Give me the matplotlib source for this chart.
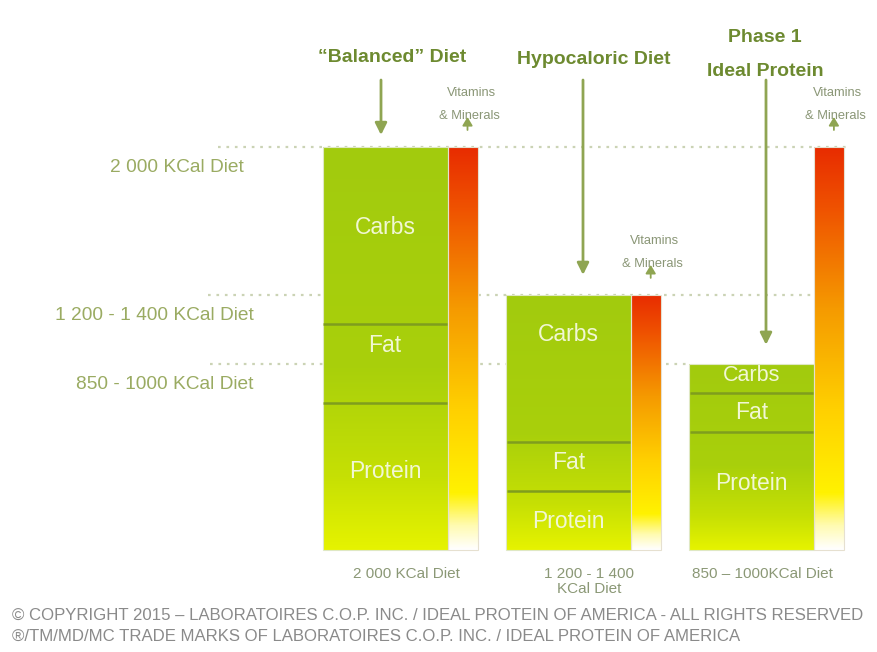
import numpy as np
import matplotlib
matplotlib.use("Agg")
import matplotlib.pyplot as plt
from matplotlib.colors import LinearSegmentedColormap

# ---------------- data ----------------
diets = ["\u201cBalanced\u201d Diet", "Hypocaloric Diet", "Phase 1\nIdeal Protein"]
segments = ["Protein", "Fat", "Carbs"]
protein = [730, 293, 586]
fat = [392, 243, 194]
carbs = [878, 730, 144]
vitamins = [2000, 1266, 2000]
level_labels = ["2 000 KCal Diet", "1 200 - 1 400 KCal Diet", "850 - 1000 KCal Diet"]
bottom_labels = ["2 000 KCal Diet", "1 200 - 1 400\nKCal Diet", "850 \u2013 1000KCal Diet"]
copyright_lines = [
    "\u00a9 COPYRIGHT 2015 \u2013 LABORATOIRES C.O.P. INC. / IDEAL PROTEIN OF AMERICA - ALL RIGHTS RESERVED",
    "\u00ae/TM/MD/MC TRADE MARKS OF LABORATOIRES C.O.P. INC. / IDEAL PROTEIN OF AMERICA",
]

# ---------------- layout helpers (pixel-ish placement of annotations) ----------------
W_PX, H_PX = 877, 652
BASE_PX, TOP_PX = 550, 147          # pixel rows of 0 and 2000 kcal
KCAL_PER_PX = 2000 / (BASE_PX - TOP_PX)
X0_PX, STEP_PX = 385, 183.2


def py(p):
    return (BASE_PX - p) * KCAL_PER_PX


def px(x):
    return (x - X0_PX) / STEP_PX


fig = plt.figure(figsize=(W_PX / 100, H_PX / 100), dpi=100)
ax = fig.add_axes([0, 0, 1, 1])
ax.set_xlim(px(0), px(W_PX))
ax.set_ylim(py(H_PX), py(0))
ax.axis("off")

FONT = ["Liberation Sans", "DejaVu Sans"]
title_c = "#6d8a30"
arrow_c = "#8fa552"
left_c = "#9aab62"
bottom_c = "#8b9876"
vit_c = "#8a9676"
dot_c = "#cbd3b5"
div_c = "#7f9d1e"
txt_c = "#f1f7d4"

bar_w = 125 / STEP_PX
vit_w = 30 / STEP_PX

green_cmap = LinearSegmentedColormap.from_list(
    "g", [(0, "#e6f300"), (0.18, "#c6e004"), (0.45, "#a9d00b"), (1.0, "#a2cb0e")])
vit_cmap = LinearSegmentedColormap.from_list(
    "v", [(0, "#ffffff"), (0.06, "#fffbb0"), (0.14, "#fff200"), (0.35, "#ffd000"),
          (0.6, "#f59a00"), (0.85, "#ef5200"), (1.0, "#e82c00")])
grad = np.linspace(0, 1, 256).reshape(-1, 1)

x = np.arange(len(diets))
totals = np.array(protein) + np.array(fat) + np.array(carbs)
stack = [protein, fat, carbs]

# green stacked bars with gradient
for i in x:
    bar = ax.bar(i, totals[i], width=bar_w, bottom=0, color="none",
                 edgecolor="#dfe8c4", linewidth=0.8, zorder=3)[0]
    im = ax.imshow(grad, extent=[i - bar_w / 2, i + bar_w / 2, 0, totals[i]],
                   origin="lower", aspect="auto", cmap=green_cmap, zorder=2)
    im.set_clip_path(bar)
    vb = ax.bar(i + bar_w / 2 + vit_w / 2, vitamins[i], width=vit_w, color="none",
                edgecolor="#e6e0d0", linewidth=0.8, zorder=3)[0]
    im2 = ax.imshow(grad, extent=[i + bar_w / 2, i + bar_w / 2 + vit_w, 0, vitamins[i]],
                    origin="lower", aspect="auto", cmap=vit_cmap, zorder=2)
    im2.set_clip_path(vb)

# dividers
cum = np.cumsum(np.array(stack), axis=0)
for i in x:
    for k in range(2):
        ax.hlines(cum[k][i], i - bar_w / 2 + 0.005, i + bar_w / 2 - 0.005,
                  color=div_c, lw=1.8, zorder=4)

# segment labels (pixel offsets from segment centre)
label_off_px = [[-4.5, -17.5, -7.5], [1.5, -3.5, -33.5], [-7, 0, -2.5]]
label_size = [[16.5, 16.5, 16.5], [16.5, 16.5, 16.5], [16.5, 16.5, 15.5]]
for i in x:
    bottoms = [0, cum[0][i], cum[1][i]]
    for k, name in enumerate(segments):
        c = bottoms[k] + stack[k][i] / 2 - label_off_px[i][k] * KCAL_PER_PX
        ax.text(i, c, name, ha="center", va="center", color=txt_c,
                fontsize=label_size[i][k], family=FONT, zorder=5)

# dotted level lines
line_ext = [(218, 850), (208, 812), (210, 690)]
levels = [totals[0], totals[1], totals[2]]
for lv, (a, b) in zip(levels, line_ext):
    ax.hlines(lv, px(a), px(b), colors=dot_c, linestyles=(0, (1.2, 2.6)), lw=1.6, zorder=1)

# left labels
left_cx = [177, 154, 165]
for lv, lab, cx in zip(levels, level_labels, left_cx):
    ax.text(px(cx), lv - 21 * KCAL_PER_PX, lab, ha="center", va="center",
            color=left_c, fontsize=13.8, family=FONT)

# bottom labels
bot_cx = [406, 589, 762]
for i, lab in enumerate(bottom_labels):
    ax.text(px(bot_cx[i]), py(567), lab, ha="center", va="top", color=bottom_c,
            fontsize=11, family=FONT, linespacing=1.05)

# titles
ax.text(px(392), py(58), diets[0], ha="center", va="center", color=title_c,
        fontsize=14, fontweight="bold", family=FONT)
ax.text(px(594), py(60), diets[1], ha="center", va="center", color=title_c,
        fontsize=14, fontweight="bold", family=FONT)
t1, t2 = diets[2].split("\n")
ax.text(px(765), py(37), t1, ha="center", va="center", color=title_c,
        fontsize=14, fontweight="bold", family=FONT)
ax.text(px(765), py(71), t2, ha="center", va="center", color=title_c,
        fontsize=14, fontweight="bold", family=FONT)

# main arrows
arrow_x = [381, 583, 766]
arrow_gap = [12, 20, 19]
for i in x:
    ax.annotate("", xy=(px(arrow_x[i]), totals[i] + arrow_gap[i] * KCAL_PER_PX),
                xytext=(px(arrow_x[i]), py(80)),
                arrowprops=dict(arrowstyle="-|>,head_length=0.7,head_width=0.35",
                                color=arrow_c, lw=2, shrinkA=0, shrinkB=0), zorder=6)

# vitamin labels & small arrows
for i in x:
    top = vitamins[i]
    cx = i + bar_w / 2 + vit_w / 2
    ax.annotate("", xy=(cx + 5 / STEP_PX, top + 30 * KCAL_PER_PX),
                xytext=(cx + 5 / STEP_PX, top + 17 * KCAL_PER_PX),
                arrowprops=dict(arrowstyle="-|>,head_length=0.5,head_width=0.3",
                                color=arrow_c, lw=1.3, shrinkA=0, shrinkB=0), zorder=6)
    ax.text(cx + 9 / STEP_PX, top + 54 * KCAL_PER_PX, "Vitamins", ha="center",
            va="center", color=vit_c, fontsize=9.3, family=FONT)
    ax.text(cx + 7 / STEP_PX, top + 31 * KCAL_PER_PX, "& Minerals", ha="center",
            va="center", color=vit_c, fontsize=9.3, family=FONT)

# copyright lines, fitted to width
cfont = ["Liberation Sans Narrow", "Liberation Sans", "DejaVu Sans"]
ct = []
for line, yp in zip(copyright_lines, [615, 636]):
    ct.append(ax.text(px(12), py(yp), line, ha="left", va="center",
                      color="#8a8a8a", fontsize=12, family=cfont))
fig.canvas.draw()
r = fig.canvas.get_renderer()
w = ct[0].get_window_extent(r).width
scale = 848 / w
for t in ct:
    t.set_fontsize(12 * scale)

fig.savefig("out.png", dpi=100, facecolor="white")
